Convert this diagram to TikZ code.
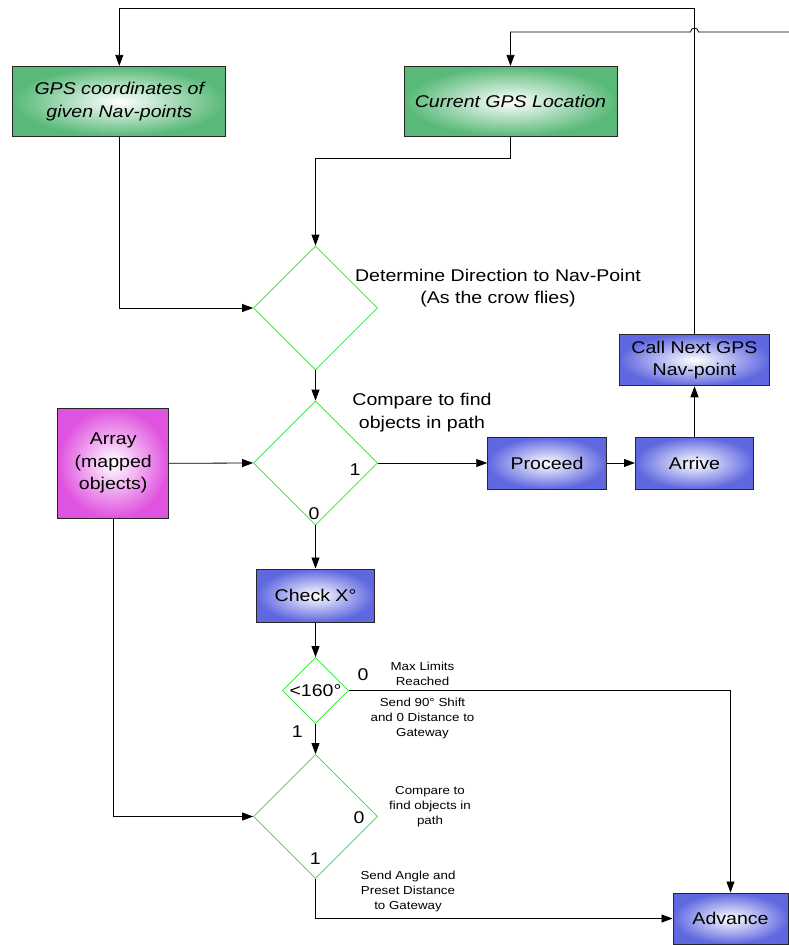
\documentclass[tikz,border=0pt]{standalone}
\usepackage{fontspec}
\setmainfont[FakeStretch=1.15]{Liberation Sans}
\usetikzlibrary{shapes.geometric,arrows.meta}
\definecolor{gfill}{RGB}{88,185,120}
\definecolor{mfill}{RGB}{224,82,224}
\definecolor{bfill}{RGB}{96,104,224}
\definecolor{dgreen}{RGB}{40,230,40}
\newcommand\bigf{\fontsize{17}{22.5}\selectfont}
\newcommand\smallf{\fontsize{11.6}{15}\selectfont}
\begin{document}
\begin{tikzpicture}[x=1pt,y=-1pt,
  box/.style={draw=black!85,line width=1pt,rectangle,inner sep=0pt,align=center,font=\bigf},
  gbox/.style={box,inner color=white,outer color=gfill},
  mbox/.style={box,inner color=white,outer color=mfill},
  bbox/.style={box,inner color=white,outer color=bfill},
  dia/.style={draw=dgreen,line width=0.8pt,diamond,inner sep=0pt,aspect=1,minimum width=124pt,minimum height=124pt},
  conn/.style={line width=0.8pt,-{Triangle[length=11pt,width=8pt]}},
  plain/.style={line width=0.8pt},
  lbl/.style={font=\bigf,inner sep=0pt,align=center},
  slbl/.style={font=\smallf,inner sep=0pt,align=center}]
\useasboundingbox (0,0) rectangle (789,945);

% boxes
\node[gbox,minimum width=213pt,minimum height=70pt,font=\bigf\itshape] (gps) at (119.3,101.4) {GPS coordinates of\\given Nav-points};
\node[gbox,minimum width=213pt,minimum height=70pt,font=\bigf\itshape] (cur) at (510.5,101.4) {Current GPS Location};
\node[mbox,minimum width=110.7pt,minimum height=110pt] (arr) at (113.2,463.3) {Array\\(mapped\\objects)};
\node[bbox,minimum width=118.5pt,minimum height=52pt] (proc) at (547,463) {Proceed};
\node[bbox,minimum width=118pt,minimum height=52pt] (arrive) at (694.5,463) {Arrive};
\node[bbox,minimum width=150pt,minimum height=51.5pt] (call) at (694.5,360) {Call Next GPS\\Nav-point};
\node[bbox,minimum width=117.6pt,minimum height=53pt] (check) at (315.5,595.5) {Check X°};
\node[bbox,minimum width=115pt,minimum height=51pt] (adv) at (730.5,918.5) {Advance};

% diamonds
\node[dia] (d1) at (315.5,308) {};
\node[dia] (d2) at (315.5,463) {};
\node[dia,minimum width=66pt,minimum height=66pt,font=\bigf] (sd) at (315.5,690.5) {<160°};
\node[dia] (d3) at (315.5,816.5) {};

% labels
\node[lbl] (t1) at (498,288) {Determine Direction to Nav-Point\\(As the crow flies)};
\node[lbl] (t2) at (422,412.5) {Compare to find\\objects in path};
\node[lbl] (t2a) at (355,470) {1};
\node[lbl] (t2b) at (314,514) {0};
\node[lbl] (t3a) at (363,675) {0};
\node[slbl] (t3) at (422.5,674) {Max Limits\\Reached};
\node[slbl] (t4) at (422.5,718) {Send 90° Shift\\and 0 Distance to\\Gateway};
\node[lbl] (t4a) at (297.3,731.7) {1};
\node[slbl] (t5) at (430,806.5) {Compare to\\find objects in\\path};
\node[lbl] (t5a) at (359,818) {0};
\node[lbl] (t5b) at (315.3,859) {1};
\node[slbl] (t6) at (408,891.5) {Send Angle and\\Preset Distance\\to Gateway};

% connectors
\coordinate (ext) at (789,32);
\coordinate (hopR) at (698.5,32);
\coordinate (hopL) at (690.5,32);
\draw[conn] (call.north) -- (call.north |- 0,8) -| (gps.north);
\draw[conn] (ext) -- (hopR) .. controls (698.5,26.7) and (690.5,26.7) .. (hopL) -| (cur.north);
\draw[conn] (gps.south) |- (d1.west);
\draw[conn] (cur.south) -- ++(0,21) -| (d1.north);
\draw[conn] (d1.south) -- (d2.north);
\draw[conn] (arr.east) -- (d2.west);
\draw[conn] (d2.east) -- (proc.west);
\draw[conn] (proc.east) -- (arrive.west);
\draw[conn] (arrive.north) -- (call.south);
\draw[conn] (d2.south) -- (check.north);
\draw[conn] (check.south) -- (sd.north);
\draw[conn] (sd.east) -| (adv.north);
\draw[conn] (sd.south) -- (d3.north);
\draw[conn] (arr.south) |- (d3.west);
\draw[conn] (d3.south) |- (adv.west);
\end{tikzpicture}
\end{document}
